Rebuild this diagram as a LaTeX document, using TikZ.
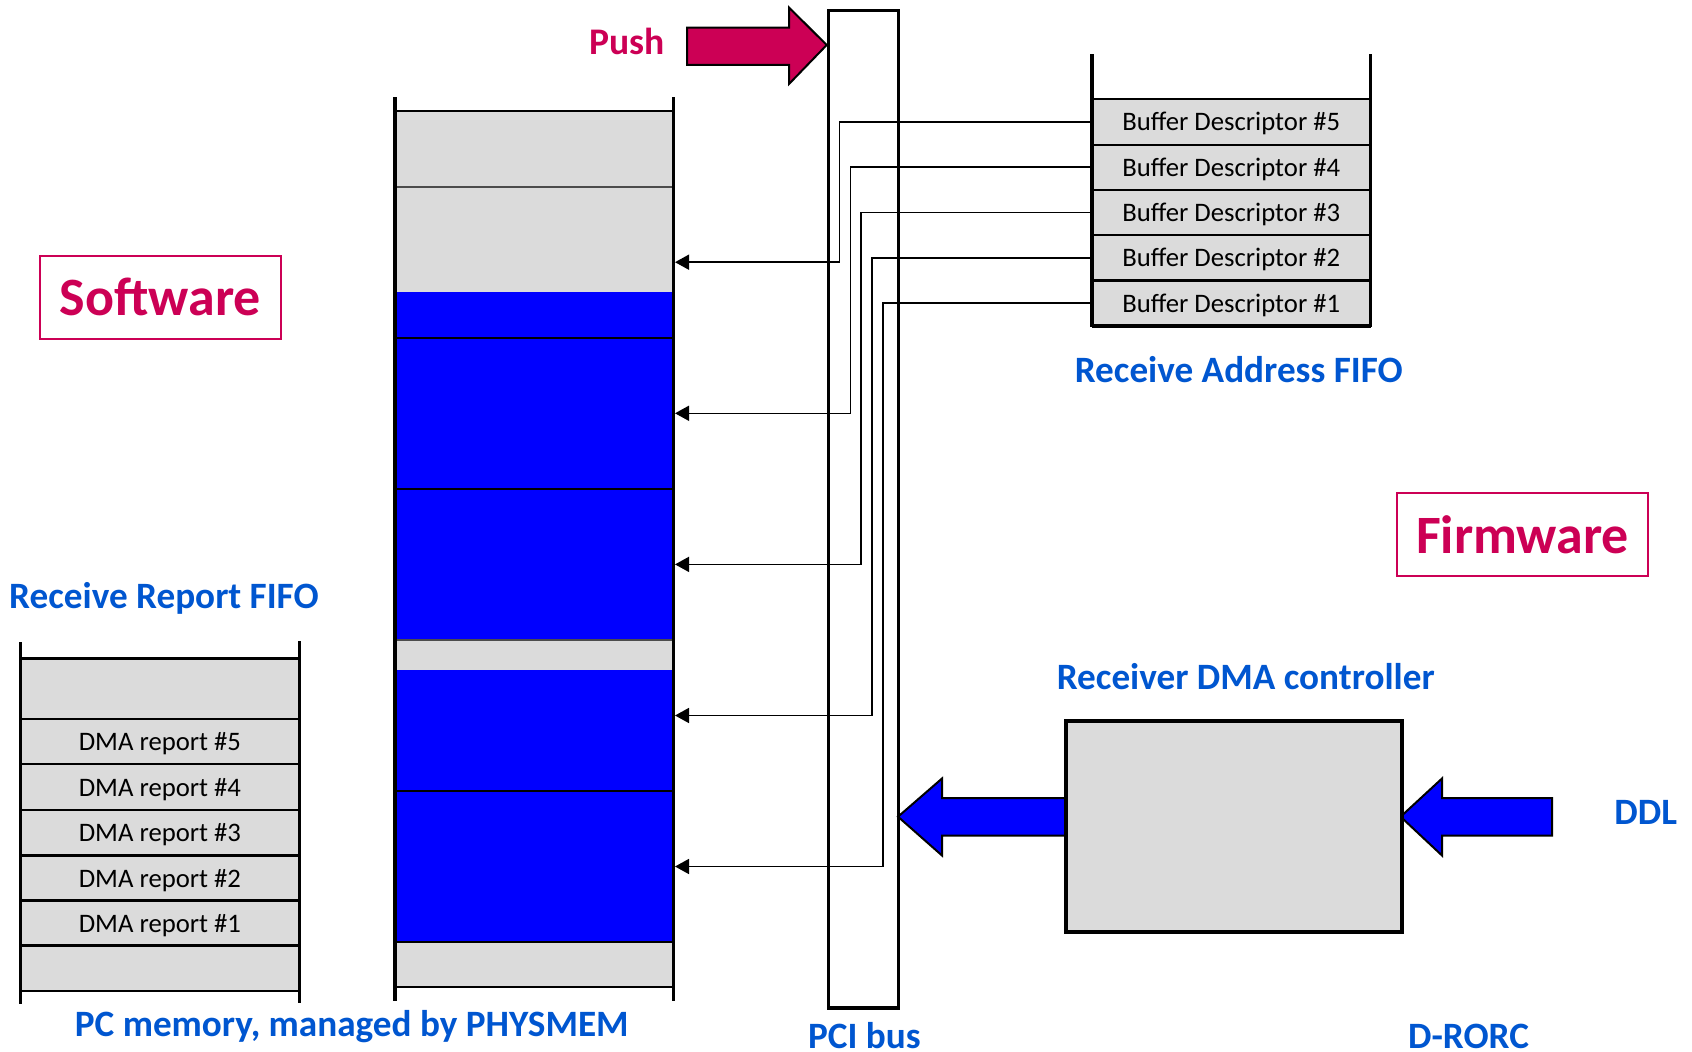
\documentclass[tikz,border=0pt]{standalone}
\usepackage{fontspec}
\setmainfont{Carlito}
\usetikzlibrary{arrows.meta,calc}
\definecolor{mag}{RGB}{204,0,85}
\definecolor{lab}{RGB}{0,86,208}
\definecolor{cellgray}{RGB}{219,219,219}
\definecolor{fullblue}{RGB}{0,0,255}
\begin{document}
\begin{tikzpicture}[x=1pt,y=-1pt,
  memcell/.style={draw=none,inner sep=0pt,minimum width=278.4pt,anchor=north west,outer sep=0pt},
  rowbox/.style={draw=black,line width=2.2pt,fill=cellgray,inner sep=0pt,anchor=north west,outer sep=0pt,text height=23pt,text depth=5pt,font=\fontsize{26.7}{29}\selectfont},
  wall/.style={line width=3.5pt,black},
  sep/.style={line width=2.6pt,black},
  thinsep/.style={line width=1.6pt,black!70},
  conn/.style={line width=1.6pt,black,-{Triangle[length=14pt,width=15pt]}},
  lbl/.style={text=lab,font=\bfseries\fontsize{37.2}{41}\selectfont,inner sep=0pt},
  bigarrow/.style={draw=black,line width=2pt,line join=miter},
  tagbox/.style={draw=mag,line width=2pt,text=mag,font=\bfseries\fontsize{54}{59}\selectfont,inner sep=0pt}
]
\useasboundingbox (0,0) rectangle (1692,1052);

% ---- PC memory column ----
\node[memcell,fill=cellgray,minimum height=75.7pt] (m1) at (395,111) {};
\node[memcell,fill=cellgray,minimum height=105.7pt] (m2) at (395,186.7) {};
\node[memcell,fill=fullblue,minimum height=45.4pt] (m3) at (395,292.4) {};
\node[memcell,fill=fullblue,minimum height=151pt] (m4) at (395,337.8) {};
\node[memcell,fill=fullblue,minimum height=151.2pt] (m5) at (395,488.8) {};
\node[memcell,fill=cellgray,minimum height=30pt] (m6) at (395,640) {};
\node[memcell,fill=fullblue,minimum height=121pt] (m7) at (395,670) {};
\node[memcell,fill=fullblue,minimum height=151pt] (m8) at (395,791) {};
\node[memcell,fill=cellgray,minimum height=45pt] (m9) at (395,942) {};
\draw[sep] (m1.north west) -- (m1.north east);
\draw[thinsep] (m2.north west) -- (m2.north east);
\draw[sep] (m4.north west) -- (m4.north east);
\draw[sep] (m5.north west) -- (m5.north east);
\draw[thinsep] (m6.north west) -- (m6.north east);
\draw[sep] (m8.north west) -- (m8.north east);
\draw[sep] (m9.north west) -- (m9.north east);
\draw[sep] (m9.south west) -- (m9.south east);
\draw[wall] (395,97) -- (395,1001);
\draw[wall] (673.4,97) -- (673.4,1001);

% ---- Receive Report FIFO ----
\node[rowbox,minimum width=278.8pt,minimum height=60.5pt] (r0) at (20.5,658.5) {};
\node[rowbox,minimum width=278.8pt,minimum height=45.3pt] (r5) at (20.5,719) {DMA report \#5};
\node[rowbox,minimum width=278.8pt,minimum height=45.7pt] (r4) at (20.5,764.3) {DMA report \#4};
\node[rowbox,minimum width=278.8pt,minimum height=45.5pt] (r3) at (20.5,810) {DMA report \#3};
\node[rowbox,minimum width=278.8pt,minimum height=45pt] (r2) at (20.5,855.5) {DMA report \#2};
\node[rowbox,minimum width=278.8pt,minimum height=45pt] (r1) at (20.5,900.5) {DMA report \#1};
\node[rowbox,minimum width=278.8pt,minimum height=45.5pt] (rb) at (20.5,945.5) {};
\draw[wall] (20.5,642) -- (20.5,1004);
\draw[wall] (299.3,641) -- (299.3,1003);

% ---- Receive Address FIFO ----
\node[rowbox,minimum width=278.5pt,minimum height=45.3pt] (bd5) at (1092,99.3) {Buffer Descriptor \#5};
\node[rowbox,minimum width=278.5pt,minimum height=45.3pt] (bd4) at (1092,144.6) {Buffer Descriptor \#4};
\node[rowbox,minimum width=278.5pt,minimum height=45.3pt] (bd3) at (1092,189.9) {Buffer Descriptor \#3};
\node[rowbox,minimum width=278.5pt,minimum height=45.3pt] (bd2) at (1092,235.2) {Buffer Descriptor \#2};
\node[rowbox,minimum width=278.5pt,minimum height=45.3pt] (bd1) at (1092,280.5) {Buffer Descriptor \#1};
\draw[wall] (1092,54) -- (1092,326.5);
\draw[wall] (1370.5,54) -- (1370.5,326.5);
\draw[wall] (bd1.south west) -- (bd1.south east);

% ---- PCI bus ----
\node[draw=black,line width=3.5pt,inner sep=0pt,minimum width=70pt,minimum height=997.5pt,anchor=north west] (pci) at (826.7,8.5) {};

% ---- connectors ----
\coordinate (k5) at (839.6,262.2);  \coordinate (t5) at (675,262.2);
\coordinate (k4) at (850.3,413.3);  \coordinate (t4) at (675,413.3);
\coordinate (k3) at (861.1,564.4);  \coordinate (t3) at (675,564.4);
\coordinate (k2) at (871.9,715.5);  \coordinate (t2) at (675,715.5);
\coordinate (k1) at (882.7,866.5);  \coordinate (t1) at (675,866.5);
\draw[conn] (bd5.west) -| (k5) -- (t5);
\draw[conn] (bd4.west) -| (k4) -- (t4);
\draw[conn] (bd3.west) -| (k3) -- (t3);
\draw[conn] (bd2.west) -| (k2) -- (t2);
\draw[conn] (bd1.west) -| (k1) -- (t1);

% ---- Push arrow ----
\draw[bigarrow,fill=mag] (687,27.5) -- (789,27.5) -- (789,7.5) -- (826.7,45) -- (789,84) -- (789,64.8) -- (687,64.8) -- cycle;
\node[text=mag,font=\bfseries\fontsize{37.6}{41}\selectfont,inner sep=0pt] (push) at (627,41) {Push};

% ---- DMA controller and blue arrows ----
\draw[bigarrow,fill=fullblue] (898,816.7) -- (942,778.5) -- (942,798) -- (1070,798) -- (1070,835.5) -- (942,835.5) -- (942,855.5) -- cycle;
\draw[bigarrow,fill=fullblue] (1400.6,816.7) -- (1442,778.5) -- (1442,798) -- (1552,798) -- (1552,835.5) -- (1442,835.5) -- (1442,855.5) -- cycle;
\node[draw=black,line width=4pt,fill=cellgray,inner sep=0pt,minimum width=335.6pt,minimum height=211.3pt,anchor=north west] (dma) at (1064,718.7) {};

% ---- tags ----
\node[tagbox,minimum width=240.6pt,minimum height=83pt] (sw) at (160.3,297.3) {Software};
\node[tagbox,minimum width=250.4pt,minimum height=83.2pt] (fw) at (1522.6,534.6) {Firmware};

% ---- labels ----
\node[lbl] (lraf) at (1238.8,370) {Receive Address FIFO};
\node[lbl] (lrrf) at (164,598) {Receive Report FIFO};
\node[lbl] (lpc) at (351.8,1027) {PC memory, managed by PHYSMEM};
\node[lbl] (lpci) at (864.4,1036) {PCI bus};
\node[lbl] (ldma) at (1245.8,676.6) {Receiver DMA controller};
\node[lbl] (lddl) at (1645.7,812.5) {DDL};
\node[lbl] (ldr) at (1468.6,1036) {D-RORC};
\end{tikzpicture}
\end{document}
